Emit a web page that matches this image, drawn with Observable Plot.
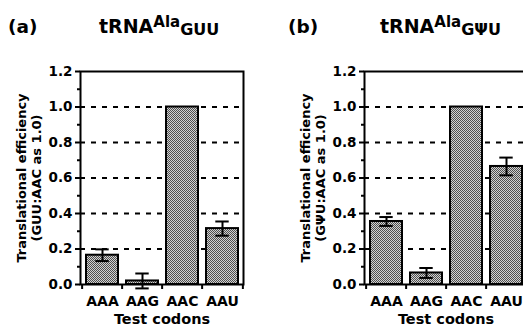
<!DOCTYPE html>
<html><head><meta charset="utf-8">
<script src="https://cdn.jsdelivr.net/npm/d3@7"></script>
<script src="https://cdn.jsdelivr.net/npm/@observablehq/plot@0.6"></script>
<style>
html,body{margin:0;padding:0;background:#fff;overflow:hidden}
#root{position:relative;width:523px;height:327px;overflow:hidden;font-family:"DejaVu Sans",sans-serif;font-weight:bold}
</style></head><body><div id="root"></div>
<script>
const codons = ["AAA", "AAG", "AAC", "AAU"];
const guuValues = [0.165, 0.02, 1.0, 0.315];
const guuErrors = [0.033, 0.042, 0, 0.04];
const gpsiValues = [0.355, 0.065, 1.0, 0.665];
const gpsiErrors = [0.025, 0.028, 0, 0.05];
const majorTicks = [0, 0.2, 0.4, 0.6, 0.8, 1.0, 1.2];
const minorTicks = [0.1, 0.3, 0.5, 0.7, 0.9, 1.1];
const gridTicks = [0.2, 0.4, 0.6, 0.8, 1.0];
const xTitle = "Test codons";
const yTitleA = ["Translational efficiency", "(GUU:AAC as 1.0)"];
const yTitleB = ["Translational efficiency", "(G\u03A8U:AAC as 1.0)"];

const root = document.getElementById("root");

function panel(values, errors, yTitle, pid, left) {
  const W = 261, H = 327, ml = 80, mr = 18, mt = 71, mb = 43;
  const data = codons.map((c, i) => ({codon: c, v: values[i], e: errors[i]}));
  const err = data.filter(d => d.e > 0);
  const step = (W - ml - mr) / codons.length;
  const bw = step * 0.8;
  const capW = 14;
  const pxPerUnit = (H - mt - mb) / 1.2;
  const tickLen = 5 / pxPerUnit;
  const svg = Plot.plot({
    width: W, height: H,
    marginLeft: ml, marginRight: mr, marginTop: mt, marginBottom: mb,
    style: {fontFamily: "DejaVu Sans", fontWeight: "bold", background: "transparent", overflow: "visible"},
    x: {domain: codons, paddingInner: 0.2, paddingOuter: 0.1},
    y: {domain: [0, 1.2]},
    marks: [
      Plot.ruleY(gridTicks, {stroke: "#000", strokeWidth: 2, strokeDasharray: "5,6"}),
      Plot.barY(data, {x: "codon", y: "v", fill: `url(#${pid})`, stroke: "#000", strokeWidth: 2}),
      Plot.ruleX(err, {x: "codon", y1: d => d.v - d.e, y2: d => d.v + d.e, stroke: "#000", strokeWidth: 2}),
      Plot.tickY(err, {x: "codon", y: d => d.v + d.e, insetLeft: (bw - capW) / 2, insetRight: (bw - capW) / 2, stroke: "#000", strokeWidth: 2}),
      Plot.tickY(err, {x: "codon", y: d => d.v - d.e, insetLeft: (bw - capW) / 2, insetRight: (bw - capW) / 2, stroke: "#000", strokeWidth: 2}),
      Plot.frame({stroke: "#000", strokeWidth: 2}),
      Plot.ruleX(codons, {x: d => d, y1: 0, y2: -tickLen, dx: -step / 2, stroke: "#000", strokeWidth: 2}),
      Plot.ruleX(codons.slice(-1), {x: d => d, y1: 0, y2: -tickLen, dx: step / 2, stroke: "#000", strokeWidth: 2}),
      Plot.axisY({ticks: majorTicks, tickSize: 5, tickPadding: 3, tickFormat: d3.format(".1f"), fontSize: 13.5, fontWeight: "bold", strokeWidth: 2, label: null}),
      Plot.axisY({ticks: minorTicks, tickSize: 3, tickFormat: () => "", strokeWidth: 2, label: null}),
      Plot.axisX({tickSize: 0, tickPadding: 12, fontSize: 14, fontWeight: "bold", label: null}),
      Plot.text([xTitle], {frameAnchor: "bottom", lineAnchor: "middle", dy: 35, fontSize: 14.5, fontWeight: "bold"}),
      Plot.text([yTitle.join("\n")], {frameAnchor: "left", textAnchor: "middle", lineAnchor: "middle", dx: -51.5, rotate: -90, fontSize: 13, fontWeight: "bold", lineHeight: 1.15})
    ]
  });
  const defs = d3.select(svg).insert("defs", ":first-child");
  const p = defs.append("pattern").attr("id", pid).attr("patternUnits", "userSpaceOnUse").attr("width", 2).attr("height", 2);
  p.append("rect").attr("width", 2).attr("height", 2).attr("fill", "#d2d2d2");
  p.append("rect").attr("width", 1).attr("height", 1).attr("fill", "#4f4f4f");
  p.append("rect").attr("x", 1).attr("y", 1).attr("width", 1).attr("height", 1).attr("fill", "#4f4f4f");
  svg.style.position = "absolute";
  svg.style.left = left + "px";
  svg.style.top = "0px";
  root.appendChild(svg);
}

panel(guuValues, guuErrors, yTitleA, "chkA", 0);
panel(gpsiValues, gpsiErrors, yTitleB, "chkB", 284);

// titles
const tsvg = d3.create("svg").attr("width", 523).attr("height", 50)
  .style("position", "absolute").style("left", "0px").style("top", "0px")
  .style("font-family", "DejaVu Sans").style("font-weight", "bold");
const titles = [
  {tag: "(a)", tagX: 8, x: 99, sub: "GUU"},
  {tag: "(b)", tagX: 288, x: 380, sub: "G\u03A8U"}
];
for (const t of titles) {
  tsvg.append("text").attr("x", t.tagX).attr("y", 33).attr("font-size", 18.5).text(t.tag);
  const tx = tsvg.append("text").attr("x", t.x).attr("y", 33);
  tx.append("tspan").attr("font-size", 19).text("tRNA");
  tx.append("tspan").attr("font-size", 15).attr("dy", -6).text("Ala");
  tx.append("tspan").attr("font-size", 16).attr("dy", 8).text(t.sub);
}
root.appendChild(tsvg.node());
</script>
</body></html>
